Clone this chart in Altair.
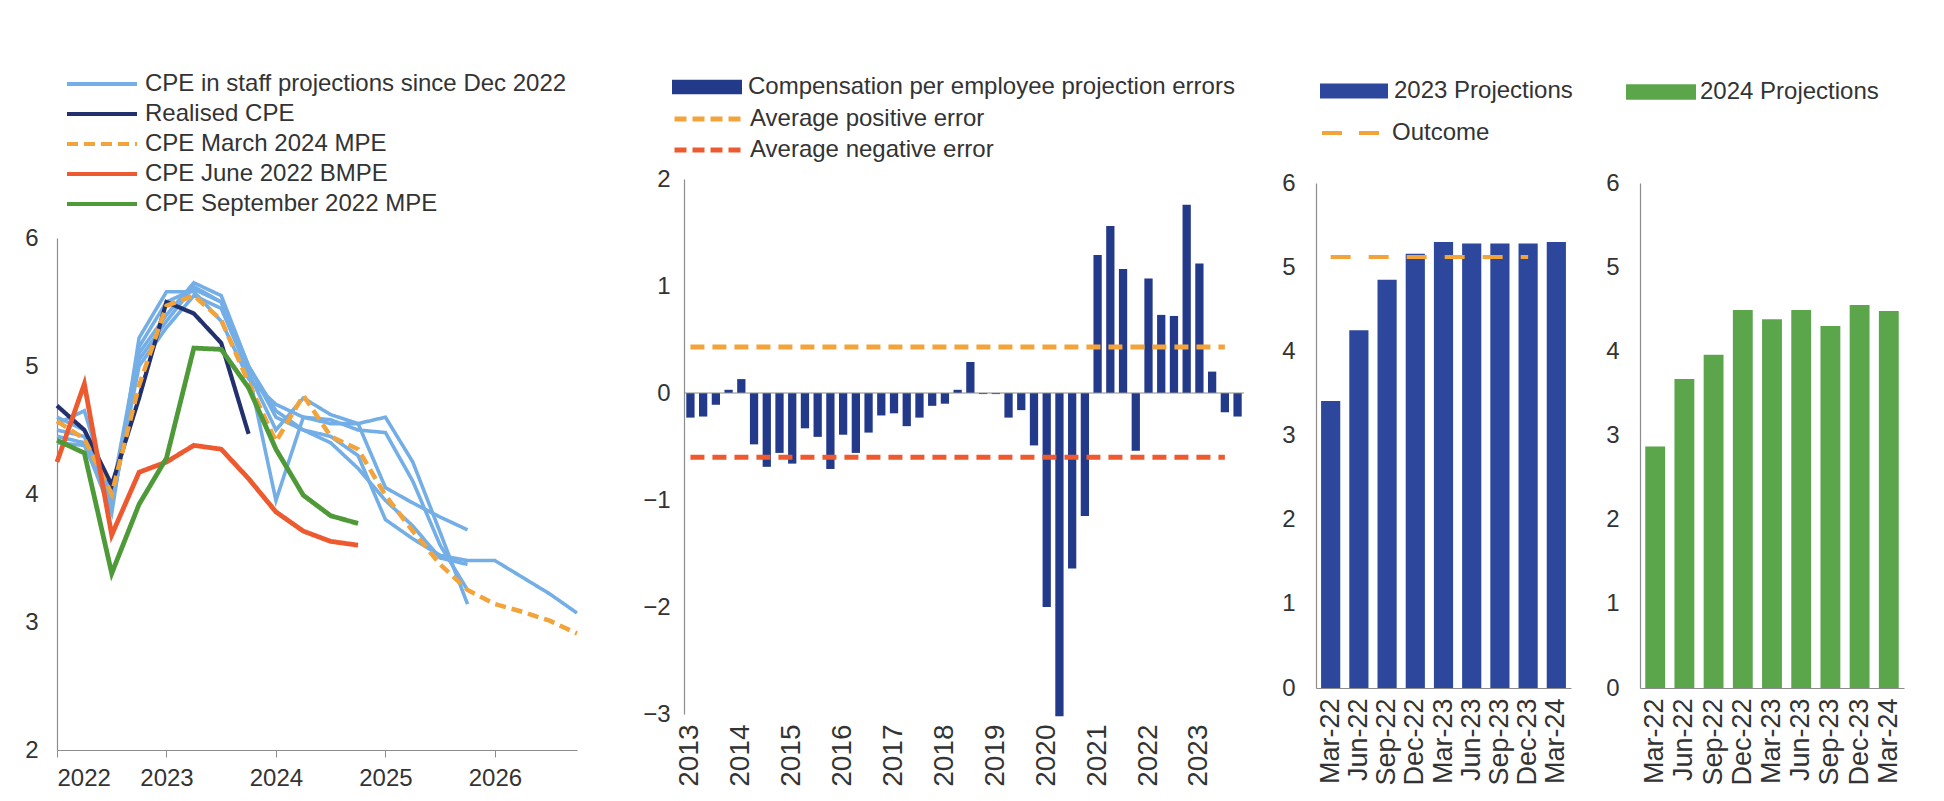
import altair as alt
import pandas as pd

FONT = "Liberation Sans"
TXT = "#333333"
AX = "#8c8c8c"

# ---------------- Panel 1 data ----------------
p1_quarters = [2022.0, 2022.25, 2022.5, 2022.75, 2023.0, 2023.25, 2023.5, 2023.75,
               2024.0, 2024.25, 2024.5, 2024.75, 2025.0, 2025.25, 2025.5, 2025.75,
               2026.0, 2026.25, 2026.5, 2026.75]
p1_years = [2022, 2023, 2024, 2025, 2026]
p1_series = ["CPE in staff projections since Dec 2022", "Realised CPE", "CPE March 2024 MPE",
             "CPE June 2022 BMPE", "CPE September 2022 MPE"]
p1_colors = ["#74aee6", "#22306d", "#f2a33a", "#ee5a2f", "#4f9a38"]
p1_dashes = [[1, 0], [1, 0], [11, 6], [1, 0], [1, 0]]
p1_widths = [3.6, 4.2, 4.5, 4.8, 4.8]

blue_dec22 = [4.50, 4.45, 3.92, 5.00, 5.30, 5.55, 5.45, 4.95, 3.95, 4.60, 4.55, 4.55, 4.60, 4.25, 3.70, 3.14]
blue_mar23 = [4.45, 4.40, 3.85, 5.22, 5.58, 5.58, 5.35, 4.90, 4.70, 4.60, 4.58, 4.50, 4.48, 4.10, 3.60, 3.25]
blue_jun23 = [4.55, 4.65, 3.95, 5.10, 5.40, 5.65, 5.55, 5.00, 4.60, 4.50, 4.40, 4.20, 3.95, 3.75, 3.50, 3.45]
blue_sep23 = [4.40, 4.38, 3.90, 5.05, 5.35, 5.62, 5.50, 4.95, 4.50, 4.75, 4.62, 4.55, 4.05, 3.93, 3.82, 3.72]
blue_dec23 = [4.60, 4.50, 4.00, 5.15, 5.50, 5.60, 5.50, 5.00, 4.65, 4.50, 4.45, 4.30, 3.80, 3.65, 3.52, 3.48,
              3.48, 3.35, 3.22, 3.07]
realised = [4.69, 4.50, 4.07, 4.75, 5.50, 5.41, 5.18, 4.47]
mpe_mar24 = [4.57, 4.43, 4.00, 4.85, 5.47, 5.55, 5.36, 4.87, 4.41, 4.77, 4.45, 4.35, 3.99, 3.71, 3.45, 3.25,
             3.14, 3.08, 3.01, 2.91]
bmpe_jun22 = [4.25, 4.86, 3.68, 4.17, 4.25, 4.38, 4.35, 4.12, 3.86, 3.71, 3.63, 3.60]
mpe_sep22 = [4.42, 4.32, 3.38, 3.92, 4.28, 5.14, 5.13, 4.83, 4.35, 3.99, 3.83, 3.77]

p1_lines = [
    (p1_series[0], "Dec 2022", blue_dec22),
    (p1_series[0], "Mar 2023", blue_mar23),
    (p1_series[0], "Jun 2023", blue_jun23),
    (p1_series[0], "Sep 2023", blue_sep23),
    (p1_series[0], "Dec 2023", blue_dec23),
    (p1_series[1], "Realised", realised),
    (p1_series[2], "Mar 2024", mpe_mar24),
    (p1_series[3], "Jun 2022", bmpe_jun22),
    (p1_series[4], "Sep 2022", mpe_sep22),
]

# ---------------- Panel 2 data ----------------
p2_quarters = [f"{y}Q{q}" for y in range(2013, 2024) for q in range(1, 5)]
p2_errors = [-0.23, -0.22, -0.11, 0.03, 0.13, -0.48, -0.69, -0.56, -0.66, -0.33,
             -0.41, -0.71, -0.39, -0.56, -0.37, -0.21, -0.19, -0.31, -0.23, -0.12,
             -0.10, 0.03, 0.29, -0.01, -0.01, -0.23, -0.16, -0.49, -2.00, -3.02,
             -1.64, -1.15, 1.29, 1.56, 1.16, -0.54, 1.07, 0.73, 0.72, 1.76,
             1.21, 0.20, -0.18, -0.22]
p2_bar_name = "Compensation per employee projection errors"
p2_avg_names = ["Average positive error", "Average negative error"]
p2_avg_values = [0.43, -0.60]
p2_avg_start = ["2013Q1", "2013Q1"]
p2_avg_end = ["2023Q3", "2023Q3"]

# ---------------- Panels 3 & 4 data ----------------
vintages = ["Mar-22", "Jun-22", "Sep-22", "Dec-22", "Mar-23", "Jun-23", "Sep-23", "Dec-23", "Mar-24"]
proj_2023 = [3.41, 4.25, 4.85, 5.16, 5.30, 5.28, 5.28, 5.28, 5.30]
outcome_2023 = [5.12]
outcome_span = ["Mar-22", "Dec-23"]
proj_2024 = [2.87, 3.67, 3.96, 4.49, 4.38, 4.49, 4.30, 4.55, 4.48]

# ======================= Panel 1 =======================
rows = []
for s, vin, vals in p1_lines:
    for t, v in zip(p1_quarters, vals):
        rows.append({"series": s, "vintage": vin, "t": t, "v": v})
df1 = pd.DataFrame(rows)

H1 = 571
leg1 = alt.Legend(title=None, orient="none", legendX=8, legendY=-108, symbolType="stroke",
                  symbolSize=4900, symbolStrokeWidth=4, labelFont=FONT, labelFontSize=24,
                  labelColor=TXT, labelLimit=0, clipHeight=26, rowPadding=4, labelOffset=6)
x1 = alt.X("t:Q", scale=alt.Scale(domain=[2022, 2026.75], nice=False, zero=False),
           axis=alt.Axis(values=p1_years, format="d", tickSize=7, labelPadding=9, title=None))
y1 = alt.Y("v:Q", scale=alt.Scale(domain=[2, 6], nice=False, zero=False, range=[H1, 59]),
           axis=alt.Axis(values=[2, 3, 4, 5, 6], ticks=False, labelPadding=19, title=None))
base1 = alt.Chart(df1).encode(
    x=x1, y=y1,
    color=alt.Color("series:N", scale=alt.Scale(domain=p1_series, range=p1_colors), legend=leg1),
    strokeDash=alt.StrokeDash("series:N", scale=alt.Scale(domain=p1_series, range=p1_dashes), legend=leg1),
    detail="vintage:N",
)
layers1 = [base1.transform_filter(alt.datum.series == s).mark_line(strokeWidth=w)
           for s, w in zip(p1_series, p1_widths)]
p1 = alt.layer(*layers1).properties(width=520, height=H1)

# ======================= Panel 2 =======================
df2 = pd.DataFrame({"q": p2_quarters, "err": p2_errors, "lab": [p2_bar_name] * len(p2_quarters)})
df2r = pd.DataFrame({"name": p2_avg_names, "v": p2_avg_values, "xs": p2_avg_start, "xe": p2_avg_end})
df2z = pd.DataFrame({"z": [0]})

sc2x = alt.Scale(domain=p2_quarters, paddingInner=0.35, paddingOuter=0.18)
ax2x = alt.Axis(title=None, labelAngle=270, domain=False, ticks=False, labelPadding=10, labelOverlap=False,
                labelFontSize=28,
                labelExpr="substring(datum.value, 4) == 'Q1' ? substring(datum.value, 0, 4) : ''")
sc2y = alt.Scale(domain=[-3, 2], nice=False)
ax2y = alt.Axis(title=None, values=[-3, -2, -1, 0, 1, 2], ticks=False, labelPadding=14)

legBar2 = alt.Legend(title=None, orient="none", legendX=-12, legendY=-105,
                     symbolType="M-1,-0.21H1V0.21H-1Z", symbolSize=4900, symbolStrokeWidth=0,
                     labelFont=FONT, labelFontSize=24, labelColor=TXT, labelLimit=0, clipHeight=26,
                     labelOffset=6)
legLine2 = alt.Legend(title=None, orient="none", legendX=-12, legendY=-73,
                      symbolType="stroke", symbolDash=[12, 6], symbolSize=4900, symbolStrokeWidth=5,
                      labelFont=FONT, labelFontSize=24, labelColor=TXT, labelLimit=0, clipHeight=26,
                      rowPadding=5, labelOffset=3)

bars2 = alt.Chart(df2).mark_bar().encode(
    x=alt.X("q:N", scale=sc2x, axis=ax2x, sort=None),
    y=alt.Y("err:Q", scale=sc2y, axis=ax2y),
    fill=alt.Fill("lab:N", scale=alt.Scale(domain=[p2_bar_name], range=["#233a8b"]), legend=legBar2),
)
zero2 = alt.Chart(df2z).mark_rule(color=AX, strokeWidth=1).encode(
    y=alt.Y("z:Q", scale=sc2y, axis=ax2y))
rules2 = alt.Chart(df2r).mark_rule(strokeWidth=5, strokeDash=[14, 8]).encode(
    x=alt.X("xs:N", scale=sc2x, axis=ax2x, sort=None),
    x2=alt.X2("xe"),
    y=alt.Y("v:Q", scale=sc2y, axis=ax2y),
    stroke=alt.Stroke("name:N", scale=alt.Scale(domain=p2_avg_names, range=["#f2a33a", "#ee5a2f"]),
                      legend=legLine2),
)
p2 = alt.layer(bars2, zero2, rules2).properties(width=560, height=535)

# ======================= Panels 3 & 4 =======================
H34 = 509
sc34x = alt.Scale(domain=vintages, paddingInner=0.32, paddingOuter=0.18)
ax34x = alt.Axis(title=None, labelAngle=270, ticks=False, labelPadding=10, labelOverlap=False,
                 labelFontSize=27)
sc34y = alt.Scale(domain=[0, 6], nice=False, range=[H34, 4])
ax34y = alt.Axis(title=None, values=[0, 1, 2, 3, 4, 5, 6], ticks=False, labelPadding=21)

df3 = pd.DataFrame({"vin": vintages, "val": proj_2023, "lab": ["2023 Projections"] * len(vintages)})
df3o = pd.DataFrame({"name": ["Outcome"], "v": outcome_2023, "xs": [outcome_span[0]], "xe": [outcome_span[1]]})
df4 = pd.DataFrame({"vin": vintages, "val": proj_2024, "lab": ["2024 Projections"] * len(vintages)})

legBar3 = alt.Legend(title=None, orient="none", legendX=4, legendY=-101,
                     symbolType="M-1,-0.22H1V0.22H-1Z", symbolSize=68 * 68, symbolStrokeWidth=0,
                     labelFont=FONT, labelFontSize=24, labelColor=TXT, labelLimit=0, clipHeight=26,
                     labelOffset=6)
legLine3 = alt.Legend(title=None, orient="none", legendX=4, legendY=-59,
                      symbolType="stroke", symbolDash=[20, 17], symbolSize=58 * 58, symbolStrokeWidth=4,
                      labelFont=FONT, labelFontSize=24, labelColor=TXT, labelLimit=0, clipHeight=26,
                      labelOffset=10)
legBar4 = alt.Legend(title=None, orient="none", legendX=-14, legendY=-100,
                     symbolType="M-1,-0.22H1V0.22H-1Z", symbolSize=70 * 70, symbolStrokeWidth=0,
                     labelFont=FONT, labelFontSize=24, labelColor=TXT, labelLimit=0, clipHeight=26,
                     labelOffset=4)

bars3 = alt.Chart(df3).mark_bar().encode(
    x=alt.X("vin:N", scale=sc34x, axis=ax34x, sort=None),
    y=alt.Y("val:Q", scale=sc34y, axis=ax34y),
    fill=alt.Fill("lab:N", scale=alt.Scale(domain=["2023 Projections"], range=["#2c479c"]), legend=legBar3),
)
rule3 = alt.Chart(df3o).mark_rule(strokeWidth=4, strokeDash=[20, 18]).encode(
    x=alt.X("xs:N", scale=sc34x, axis=ax34x, sort=None),
    x2=alt.X2("xe"),
    y=alt.Y("v:Q", scale=sc34y, axis=ax34y),
    stroke=alt.Stroke("name:N", scale=alt.Scale(domain=["Outcome"], range=["#f2a33a"]), legend=legLine3),
)
p3 = alt.layer(bars3, rule3).properties(width=255, height=H34)

p4 = alt.Chart(df4).mark_bar().encode(
    x=alt.X("vin:N", scale=sc34x, axis=ax34x, sort=None),
    y=alt.Y("val:Q", scale=sc34y, axis=ax34y),
    fill=alt.Fill("lab:N", scale=alt.Scale(domain=["2024 Projections"], range=["#5ba64b"]), legend=legBar4),
).properties(width=264, height=H34)

indep_scale = dict(x="independent", y="independent", color="independent", strokeDash="independent",
                   fill="independent", stroke="independent")
indep_leg = dict(color="independent", strokeDash="independent", fill="independent", stroke="independent")

left = alt.hconcat(p1, p2, spacing=56).resolve_scale(**indep_scale).resolve_legend(**indep_leg)
right = alt.hconcat(p3, p4, spacing=32).resolve_scale(**indep_scale).resolve_legend(**indep_leg)

chart = (
    alt.hconcat(left, right, spacing=29)
    .resolve_scale(**indep_scale)
    .resolve_legend(**indep_leg)
    .properties(padding={"left": 16, "top": 63, "right": 5, "bottom": 0}, background="white")
    .configure(font=FONT)
    .configure_view(stroke=None)
    .configure_axis(labelFont=FONT, labelFontSize=24, labelColor=TXT, domainColor=AX, tickColor=AX,
                    grid=False, domainWidth=1.2)
)

chart.save("out.html", embed_options={"renderer": "svg", "actions": False})
